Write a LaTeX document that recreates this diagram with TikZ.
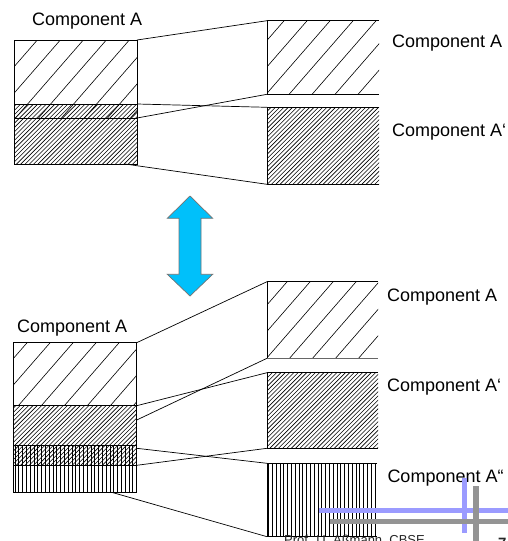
\documentclass[tikz,border=0pt]{standalone}
\usepackage{fontspec}
\setmainfont{Liberation Sans}
\definecolor{arrowcyan}{RGB}{0,192,250}
\definecolor{footblue}{RGB}{155,155,255}
\begin{document}
\begin{tikzpicture}[x=1pt,y=-1pt,
  hatch/.style={line width=0.6pt,black},
  frame/.style={line width=0.9pt,black},
  conn/.style={line width=0.7pt,black},
  lbl/.style={anchor=base west,inner sep=0pt,font=\fontsize{18}{20}\selectfont},
  foot/.style={anchor=base west,inner sep=0pt,font=\fontsize{13}{14}\selectfont,text=black!85}]
\useasboundingbox (0,0) rectangle (508,541);
\newcommand\hwide[4]{%
  \begin{scope}\clip (#1,#2) rectangle (#3,#4);
  \pgfmathsetmacro\cs{floor((#1+#2/1.15-72.1)/23)*23+72.1}%
  \pgfmathsetmacro\cn{\cs+23}\pgfmathsetmacro\ce{#3+#4/1.15+23}%
  \foreach \c in {\cs,\cn,...,\ce} \draw[hatch] (\c,0) -- ++(-608.7,700);
  \end{scope}}
\newcommand\hdense[4]{%
  \begin{scope}\clip (#1,#2) rectangle (#3,#4);
  \pgfmathsetmacro\cs{floor((#1+#2)/4.3)*4.3}%
  \pgfmathsetmacro\cn{\cs+4.3}\pgfmathsetmacro\ce{#3+#4+4.3}%
  \foreach \c in {\cs,\cn,...,\ce} \draw[hatch] (\c,0) -- ++(-700,700);
  \end{scope}}
\newcommand\hvert[4]{%
  \begin{scope}\clip (#1,#2) rectangle (#3,#4);
  \pgfmathsetmacro\cs{#1+1.5}\pgfmathsetmacro\cn{\cs+3.8}%
  \foreach \c in {\cs,\cn,...,#3} \draw[hatch] (\c,#2) -- (\c,#4);
  \end{scope}}
% ---------- top section ----------
\hwide{14}{40}{137}{118}
\hdense{14}{104}{137}{164}
\draw[frame] (14,40) rectangle (137,164);
\draw[frame] (14,104) -- (137,104) (14,118) -- (137,118);
\coordinate (L1a) at (137,40);
\coordinate (L1b) at (137,104);
\coordinate (L1c) at (137,118);
\coordinate (L1d) at (125,164);
% right boxes
\hwide{267}{20.7}{379}{94.3}
\draw[frame] (379,20.7) -- (267,20.7) -- (267,94.3) -- (379,94.3);
\hdense{267}{107.3}{379}{184.3}
\draw[frame] (379,107.3) -- (267,107.3) -- (267,184.3) -- (379,184.3);
\coordinate (R1a) at (267,20.7);
\coordinate (R1b) at (267,94.3);
\coordinate (R1c) at (267,107.3);
\coordinate (R1d) at (267,184.3);
\draw[conn] (L1a) -- (R1a);
\draw[conn] (L1c) -- (R1b);
\draw[conn] (L1b) -- (R1c);
\draw[conn] (L1d) -- (R1d);
\node[lbl] (tA) at (32,25) {Component A};
\node[lbl] (tRA) at (392,47) {Component A};
\node[lbl] (tRB) at (392,136) {Component A‘};
% ---------- arrow ----------
\draw[fill=arrowcyan,draw=black!55,line width=0.7pt]
  (190,196) -- (212.7,218.3) -- (201,218.3) -- (201,274.3) -- (212.7,274.3)
  -- (190,296) -- (167.3,274.3) -- (179,274.3) -- (179,218.3) -- (167.3,218.3) -- cycle;
% ---------- bottom section ----------
\hwide{13.3}{342.7}{136.7}{405.7}
\hdense{13.3}{405.7}{136.7}{465.7}
\hvert{13.3}{445}{136.7}{492.3}
\draw[frame] (13.3,342.7) rectangle (136.7,492.3);
\draw[frame] (13.3,405.7) -- (136.7,405.7) (13.3,445) -- (136.7,445) (13.3,465.7) -- (136.7,465.7);
\coordinate (L2a) at (136.7,342.7);
\coordinate (L2b) at (136.7,405.7);
\coordinate (L2c) at (136.7,420);
\coordinate (L2d) at (136.7,448.3);
\coordinate (L2e) at (136.7,465.3);
\coordinate (L2f) at (111.7,492.3);
\hwide{267}{281.7}{378}{358.3}
\draw[frame] (378,281.7) -- (267,281.7) -- (267,358.3);
\draw[line width=0.9pt,black!60] (267,358.3) -- (378,358.3);
\hdense{267}{372.7}{378}{448.3}
\draw[frame] (378,372.7) -- (267,372.7) -- (267,448.3) -- (378,448.3);
\hvert{267}{463.3}{377}{536.7}
\draw[frame] (377,463.3) -- (267,463.3) -- (267,536.7) -- (377,536.7);
\coordinate (R2a) at (267,281.7);
\coordinate (R2b) at (267,358.3);
\coordinate (R2c) at (267,372.7);
\coordinate (R2d) at (267,448.3);
\coordinate (R2e) at (267,463.3);
\coordinate (R2f) at (267,536.7);
\draw[conn] (L2a) -- (R2a);
\draw[conn] (L2c) -- (R2b);
\draw[conn] (L2b) -- (R2c);
\draw[conn] (L2e) -- (R2d);
\draw[conn] (L2d) -- (R2e);
\draw[conn] (L2f) -- (R2f);
\node[lbl] (bA) at (17,332.3) {Component A};
\node[lbl] (bRA) at (387,301) {Component A};
\node[lbl] (bRB) at (387,391.7) {Component A‘};
\node[lbl] (bRC) at (387.3,482) {Component A“};
% ---------- footer ----------
\draw[line width=5pt,footblue] (319.3,510) -- (508,510);
\draw[line width=5.5pt,footblue] (464.5,478) -- (464.5,532.7);
\draw[line width=5pt,black!42] (330,521.8) -- (508,521.8);
\draw[line width=5.7pt,black!42] (476,486) -- (476,541);
\node[foot] (fp) at (284,544) {Prof. U. Aßmann, CBSE};
\node[foot,font=\fontsize{15}{16}\selectfont\bfseries] (fn) at (498,548) {7};
\end{tikzpicture}
\end{document}
